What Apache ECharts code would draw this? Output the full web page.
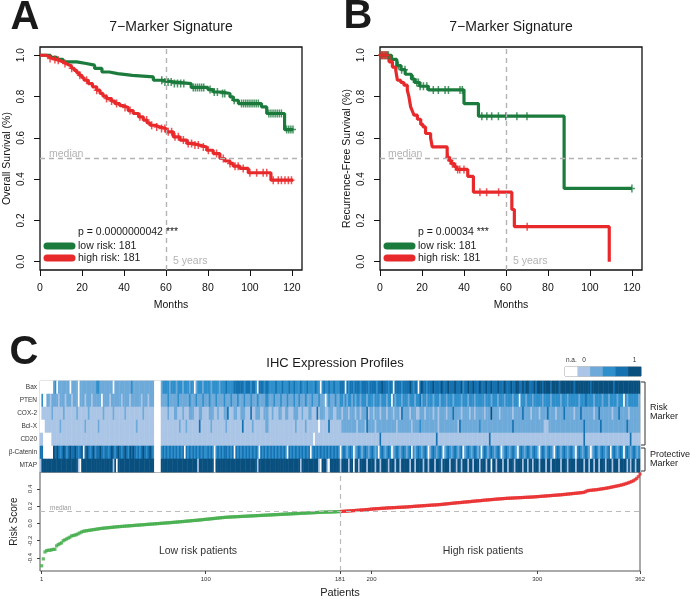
<!DOCTYPE html>
<html><head><meta charset="utf-8">
<script src="https://cdn.jsdelivr.net/npm/echarts@6/dist/echarts.min.js"></script>
<style>html,body{margin:0;padding:0;background:#fff}#c{width:690px;height:599px}</style>
</head><body><div id="c"></div>
<script>
const FONT = '"Liberation Sans", Arial, Helvetica, sans-serif';

// ---------- Panel A : overall survival (Kaplan-Meier) ----------
const kmA_low_t = [0, 5, 8, 11, 17.5, 22, 26, 29.5, 33, 37, 44, 54, 58.5, 63.5, 72, 80, 82.5, 86.5, 90.5, 92, 94.5, 105.5, 108, 116.5];
const kmA_low_s = [1, 0.99, 0.98, 0.968, 0.96, 0.952, 0.936, 0.919, 0.911, 0.903, 0.895, 0.879, 0.871, 0.863, 0.844, 0.834, 0.822, 0.815, 0.798, 0.782, 0.766, 0.75, 0.718, 0.64];
const kmA_low_end = 120.6;
const kmA_low_cens = [58, 59.5, 61, 62.5, 64, 65.5, 67, 68.5, 73, 74, 75, 76, 77, 78, 81, 83, 84.5, 87, 88, 92.5, 96, 97, 98, 99, 100, 101, 102, 103, 104, 109, 110, 111, 112, 113, 114, 115, 117.5, 118.5, 119.5, 120.5];

const kmA_high_t = [0, 3, 4.4, 6, 7.6, 9, 10.8, 12.5, 13.9, 15, 16.3, 17.5, 18.7, 20, 21, 23, 25, 27, 28.6, 30, 31.7, 34, 35.7, 38, 39.7, 42, 44.4, 47, 49.2, 51, 52.4, 55, 57, 60, 63.5, 66.7, 70, 73, 76, 79.4, 82.5, 85.7, 88, 90.5, 92, 95.2, 99.2, 110];
const kmA_high_s = [1, 0.992, 0.984, 0.98, 0.976, 0.968, 0.96, 0.953, 0.947, 0.937, 0.927, 0.915, 0.903, 0.891, 0.879, 0.863, 0.847, 0.831, 0.815, 0.802, 0.79, 0.778, 0.766, 0.756, 0.747, 0.732, 0.718, 0.702, 0.686, 0.673, 0.661, 0.653, 0.645, 0.629, 0.605, 0.589, 0.573, 0.565, 0.556, 0.54, 0.524, 0.5, 0.488, 0.476, 0.463, 0.452, 0.431, 0.395];
const kmA_high_end = 120.6;
const kmA_high_cens = [4.8, 7.1, 8.7, 11.9, 15.1, 19, 22.2, 27, 31.7, 34.1, 36.5, 40.5, 42.9, 47.6, 50.8, 53.2, 55.6, 57.9, 59.5, 61.1, 62.7, 64.3, 65.9, 68.3, 70.6, 72.2, 73.8, 75.4, 77.8, 80.2, 84.1, 87.3, 90.5, 92.9, 94.4, 96.8, 100, 103.2, 106.3, 108, 111.1, 113.5, 115, 116.7, 118.3, 119.8];

// ---------- Panel B : recurrence-free survival ----------
const kmB_low_t = [0, 5.5, 8, 10, 12, 15, 16.5, 19, 23, 40, 46.9, 87.7];
const kmB_low_s = [1, 0.98, 0.95, 0.93, 0.908, 0.885, 0.868, 0.85, 0.832, 0.766, 0.705, 0.355];
const kmB_low_end = 120;
const kmB_low_cens = [0.5, 1.2, 1.9, 2.6, 3.3, 4, 8.7, 10.3, 11.9, 15.9, 17.5, 18.3, 19.1, 20.7, 22.3, 25.4, 27.8, 31, 32.6, 38.1, 39.2, 48.5, 50.9, 53.2, 56.4, 59.9, 65.2, 70, 120];

const kmB_high_t = [0, 4.3, 5.9, 7.5, 8.3, 9.9, 11.4, 13, 13.8, 14.6, 15.4, 16.2, 17.8, 19.4, 20.5, 21.7, 24.1, 24.9, 32, 33, 34, 35.5, 36.5, 41.8, 44.5, 62.8, 64, 109.2];
const kmB_high_s = [1, 0.968, 0.943, 0.927, 0.879, 0.868, 0.855, 0.831, 0.798, 0.75, 0.73, 0.71, 0.69, 0.665, 0.653, 0.621, 0.6, 0.556, 0.505, 0.49, 0.475, 0.46, 0.447, 0.413, 0.337, 0.253, 0.17, 0];
const kmB_high_end = 109.2;
const kmB_high_cens = [0.5, 1.2, 2, 2.8, 3.5, 32.5, 33.5, 34.5, 36, 37, 38, 40, 47.6, 50.8, 56.5, 70.1];

const monthTicks = [0, 20, 40, 60, 80, 100, 120];
const survTicks = [0, 0.2, 0.4, 0.6, 0.8, 1.0];

// ---------- Panel C : IHC heatmap (levels 0 = n.a., 1..5 = low..high) ----------
const markers = ['Bax', 'PTEN', 'COX-2', 'Bcl-X', 'CD20', 'β-Catenin', 'MTAP'];
const levelColors = ['#ffffff', '#aac5e5', '#6eaad9', '#2e8fcb', '#1571b0', '#09507f'];
const colorbarLabels = ['n.a.', '0', '', '', '', '1'];
const rowBax = ["00000 00023 02222 22202","22202 22222 22223 32222","22220 22222 22222 32222","22222 22220 00023 33323","33233 32333 23302 33323","33323 33323 33433 33444","44434 44344 30444 34433","33433 34333 43343 33433","34333 34330 34334 33433","34440 43443 44434 44434","44434 45444 34404 44434","44454 34404 54434 44544","44544 45444 54445 34454","45444 54445 44544 45444","54445 44554 45455 44454","55545 55545 55545 55555","55455 55555 55455 55555","55555 54555 55555 55555","55"];
const rowPTEN = ["03002 21222 21222 12221","22202 22122 21222 22022","22122 22221 22221 22222","21222 12220 00022 22322","22232 22222 32223 22232","22322 23222 23222 32223","22232 22322 23222 23322","23222 32223 22232 23222","32223 22232 22023 22232","23323 23323 23323 33233","32333 23332 33032 33323","33233 32334 23323 33233","32333 23332 33332 33323","33233 33323 33233 32333","23333 23330 33323 33233","33323 33323 33332 33323","33333 23334 33332 33332","33323 33323 33032 33333","32"];
const rowCOX2 = ["01111 11211 11112 11111","11211 11112 11111 11121","11112 11111 12111 11111","11211 11110 00011 11211","12211 12111 22211 12211","11222 11211 12241 11221","12221 11411 22211 22211","21112 21122 11122 21121","11221 11412 22112 22112","22122 21222 12212 22412","21222 12221 22212 22142","22212 22112 22122 22122","12222 12224 22221 22221","22122 22212 22522 22122","22222 12222 24222 21222","21222 24222 21222 24222","22122 24222 22221 22422","22222 12224 22222 12222","22"];
const rowBclX = ["00011 11111 11211 11111","11111 11211 11111 21111","11111 11111 11111 11121","11111 11110 00011 11111","11112 11121 11111 14111","11121 11111 11211 11111","11411 11121 11111 12211","11111 11111 11112 11111","21111 11101 11114 11111","11222 22222 21222 21422","22122 22222 22222 12222","22221 22223 22222 22222","12222 22222 22142 22222","22222 32222 22222 22222","22222 42222 22222 22222","22221 11222 22222 22222","22222 22242 22222 22242","22222 22222 22224 22222","22"];
const rowCD20 = ["11000 00111 11111 11111","11111 11111 11111 11111","11111 11111 11111 11111","11111 11110 00011 11111","11111 11111 11111 11111","11111 11111 11111 11111","11111 11111 11111 11111","11111 11111 11111 11111","11111 01111 11111 11111","11111 11111 11111 11111","11111 41111 11111 11111","11111 11111 11111 11114","11111 11111 11111 11111","11111 11111 14111 11111","11111 11111 11111 11111","11111 11111 11111 11111","11111 11141 11111 11111","11111 11111 11111 14111","11"];
const rowBCat = ["44000 00054 54345 43454","45434 50454 34534 45434","43454 34543 45435 45434","34543 45430 00034 34343","43434 34043 43434 34343","34343 03434 34434 34043","43434 34343 43043 43434","34343 43430 43434 34343","43403 43434 34343 43434","30343 23430 23432 34323","43230 34323 43023 43234","32340 32343 23430 23432","34302 34323 43234 02343","23432 30343 23432 34302","34323 43203 43234 32343","20343 23432 03432 34323","43203 43234 32023 43234","32340 34323 43034 32343","23"];
const rowMTAP = ["15555 55555 55555 55555","55510 55555 55555 55555","55551 50555 55555 55555","55555 55550 00055 55555","55555 55555 55555 15555","55555 05555 55555 55555","55555 55555 51555 55555","55555 55555 55555 55155","55555 55510 55510 55555","51555 51550 55155 55155","55155 15555 15551 55155","55515 51555 51551 55515","55155 55155 51551 55515","51555 15551 55055 15551","55155 51555 51551 55155","51555 15515 55551 55515","55515 55515 51551 55155","51555 15551 55551 51551","55"];

// ---------- Panel C : sorted risk scores ----------
const riskLow = [-0.49,-0.41,-0.33,-0.315,-0.31,-0.31,-0.305,-0.30,-0.30,
 -0.26,-0.245,-0.235,-0.225,
 -0.20,-0.19,-0.18,-0.17,-0.16,
 -0.145,-0.14,-0.135,-0.13,-0.12,-0.11,-0.10,
 -0.092,-0.088,-0.085,-0.082,-0.079,-0.076,-0.073,-0.07,-0.067,-0.064,
 -0.061,-0.058,-0.056,-0.054,-0.052,-0.05,-0.048,-0.046,-0.044,-0.042,-0.04,-0.038,-0.037,-0.035,-0.034,
 -0.032,-0.031,-0.029,-0.028,-0.026,-0.025,-0.023,-0.022,-0.02,-0.019,-0.017,-0.016,-0.014,-0.013,-0.011,-0.01,-0.008,-0.007,-0.005,-0.004,
 -0.002,-0.001,0.001,0.002,0.004,0.005,0.007,0.008,0.01,0.011,0.013,0.015,0.016,0.018,0.02,0.021,0.023,0.025,0.027,0.028,
 0.03,0.032,0.034,0.035,0.037,0.039,0.041,0.043,0.045,0.047,0.049,0.051,0.053,0.055,0.057,0.059,0.061,0.063,0.065,0.067,
 0.069,0.07,0.072,0.073,0.074,0.075,0.076,0.077,0.078,0.079,0.08,0.081,0.082,0.083,0.084,0.085,0.086,0.087,0.088,0.089,0.09,0.091,0.092,0.093,0.094,0.095,0.096,0.097,0.098,0.099,
 0.1,0.101,0.102,0.103,0.104,0.105,0.106,0.107,0.108,0.109,0.11,0.111,0.112,0.113,0.114,0.115,0.116,0.117,0.118,0.119,0.12,0.121,0.122,0.123,0.124,0.125,0.126,0.127,0.128,0.129,0.13,0.13,0.131,0.131,0.132,0.132,0.133,0.134,0.135,0.136,0.137];
const riskHigh = [0.138,0.14,0.141,0.142,0.144,0.145,0.146,0.148,0.149,0.15,0.152,0.153,0.155,0.156,0.158,0.159,0.161,0.163,0.165,0.167,
 0.168,0.17,0.171,0.172,0.174,0.175,0.176,0.178,0.179,0.18,0.181,0.182,0.183,0.184,0.185,0.186,0.187,0.188,0.189,0.19,
 0.191,0.193,0.194,0.196,0.197,0.199,0.2,0.201,0.203,0.204,0.205,0.207,0.208,0.209,0.211,0.212,0.213,0.214,0.216,0.217,
 0.219,0.221,0.223,0.225,0.227,0.229,0.231,0.233,0.235,0.237,0.239,0.24,0.242,0.244,0.246,0.248,0.249,0.251,0.253,0.255,
 0.257,0.259,0.261,0.262,0.264,0.266,0.268,0.27,0.271,0.273,0.275,0.276,0.278,0.28,0.281,0.283,0.284,0.286,0.287,0.289,
 0.29,0.291,0.292,0.293,0.294,0.295,0.296,0.297,0.298,0.299,0.3,0.301,0.302,0.303,0.304,0.305,0.306,0.308,0.309,0.311,
 0.312,0.314,0.315,0.317,0.318,0.32,0.321,0.323,0.324,0.326,0.327,0.329,0.33,0.332,0.334,0.336,0.338,0.34,0.342,0.344,
 0.346,0.348,0.35,0.352,0.354,0.356,0.358,0.366,0.375,0.38,0.382,0.384,0.386,0.388,0.39,0.393,0.396,0.399,0.402,0.405,
 0.408,0.412,0.416,0.42,0.424,0.428,0.432,0.436,0.44,0.445,0.45,0.456,0.462,0.469,0.476,0.484,0.493,0.505,0.52,0.54,0.57];
const riskMedian = 0.137;
const splitPatient = 181;
const patientTicks = [1, 100, 181, 200, 300, 362];
const riskTicks = [-0.4, -0.2, 0, 0.2, 0.4];

// ---------- helpers ----------
const GREEN = '#1b7b3c', RED = '#e8292b', GREY = '#b3b3b3';
const PLUS = 'path://M-0.75,-4 L0.75,-4 L0.75,-0.75 L3,-0.75 L3,0.75 L0.75,0.75 L0.75,4 L-0.75,4 L-0.75,0.75 L-3,0.75 L-3,-0.75 L-0.75,-0.75 Z';
function stepData(t, s, end) {
  const d = t.map((v, i) => [v, s[i]]);
  if (end > t[t.length - 1]) d.push([end, s[s.length - 1]]);
  return d;
}
function stepAt(t, s, x) { let v = s[0]; for (let i = 0; i < t.length; i++) if (t[i] <= x) v = s[i]; return v; }
function censData(t, s, c) { return c.map(x => [x, stepAt(t, s, x)]); }
function kmLine(gi, t, s, end, color, extra) {
  return Object.assign({type: 'line', xAxisIndex: gi, yAxisIndex: gi, step: 'end', showSymbol: false, symbol: 'none',
    data: stepData(t, s, end), lineStyle: {color, width: 3.2}, z: 3, silent: true}, extra || {});
}
function kmCens(gi, t, s, c, color) {
  return {type: 'scatter', xAxisIndex: gi, yAxisIndex: gi, symbol: PLUS, symbolSize: [6, 8],
    data: censData(t, s, c), itemStyle: {color}, z: 4, silent: true};
}
function kmMark() {
  return {silent: true, symbol: ['none', 'none'], label: {show: false},
    lineStyle: {type: [5, 4], color: GREY, width: 1.4}, data: [{yAxis: 0.5}, {xAxis: 60}]};
}
const txt = {fontFamily: FONT, color: '#111'};
function kmX(gi) {
  return {type: 'value', gridIndex: gi, min: 0, max: 124.8, splitLine: {show: false}, axisLine: {show: false, onZero: false},
    axisTick: {show: true, length: 6, lineStyle: {color: '#111', width: 1}, customValues: monthTicks},
    axisLabel: Object.assign({customValues: monthTicks, margin: 13, fontSize: 10.5}, txt),
    name: 'Months', nameLocation: 'middle', nameGap: 30, nameTextStyle: Object.assign({fontSize: 10.5}, txt)};
}
function kmY(gi, name) {
  return {type: 'value', gridIndex: gi, min: -0.04, max: 1.04, splitLine: {show: false}, axisLine: {show: false, onZero: false},
    axisTick: {show: true, length: 6, lineStyle: {color: '#111', width: 1}, customValues: survTicks},
    axisLabel: Object.assign({customValues: survTicks, rotate: 90, margin: 14, fontSize: 10, formatter: v => (+v).toFixed(1)}, txt),
    name, nameLocation: 'middle', nameGap: 27, nameTextStyle: Object.assign({fontSize: 10.5}, txt)};
}

// heatmap data
const rows = [rowBax, rowPTEN, rowCOX2, rowBclX, rowCD20, rowBCat, rowMTAP].map(r => r.join('').replace(/ /g, ''));
const heatData = [];
rows.forEach((r, yi) => { for (let xi = 0; xi < r.length; xi++) heatData.push([xi, yi, +r[xi]]); });
const nPatients = riskLow.length + riskHigh.length;
const patientCats = Array.from({length: nPatients}, (_, i) => String(i + 1));

const lowData = riskLow.map((v, i) => [i + 1, v]);
const highData = riskHigh.map((v, i) => [riskLow.length + i + 1, v]);

function T(text, x, y, size, o) {
  o = o || {};
  return {type: 'text', x, y, silent: true, z: 100, style: {text, fill: o.fill || '#1a1a1a',
    font: (o.bold ? 'bold ' : '') + size + 'px ' + FONT, align: o.align || 'center', verticalAlign: 'middle'}};
}
function L(x1, y1, x2, y2, color) {
  return {type: 'line', silent: true, z: 100, shape: {x1, y1, x2, y2}, style: {stroke: color, lineWidth: 7, lineCap: 'round'}};
}
function P(points) {
  return {type: 'polyline', silent: true, z: 100, shape: {points}, style: {stroke: '#333', lineWidth: 1, fill: null}};
}

const option = {
  animation: false,
  backgroundColor: '#ffffff',
  grid: [
    {left: 40, top: 47, width: 262, height: 223, show: true, borderColor: '#111', borderWidth: 1.3, backgroundColor: 'transparent'},
    {left: 380, top: 47, width: 262, height: 223, show: true, borderColor: '#111', borderWidth: 1.3, backgroundColor: 'transparent'},
    {left: 40, top: 381, width: 600, height: 91, show: true, borderColor: '#888', borderWidth: 0.6, backgroundColor: 'transparent'},
    {left: 40, top: 472, width: 600, height: 100, show: true, borderColor: '#555', borderWidth: 1, backgroundColor: 'transparent'},
    {left: 565, top: 367, width: 76, height: 9, show: true, borderColor: '#666', borderWidth: 0.8, backgroundColor: 'transparent'}
  ],
  xAxis: [
    kmX(0), kmX(1),
    {type: 'category', gridIndex: 2, data: patientCats, show: false},
    {type: 'value', gridIndex: 3, min: 0, max: 362, splitLine: {show: false}, axisLine: {show: false, onZero: false},
      axisTick: {show: true, length: 3, lineStyle: {color: '#444'}, customValues: patientTicks},
      axisLabel: {customValues: patientTicks, fontSize: 6, margin: 5, color: '#333', fontFamily: FONT},
      name: 'Patients', nameLocation: 'middle', nameGap: 16, nameTextStyle: {fontSize: 11, color: '#222', fontFamily: FONT}},
    {type: 'category', gridIndex: 4, data: colorbarLabels, position: 'top', axisLine: {show: false}, axisTick: {show: false},
      axisLabel: {interval: 0, fontSize: 6.5, margin: 3, color: '#333', fontFamily: FONT}}
  ],
  yAxis: [
    kmY(0, 'Overall Survival (%)'), kmY(1, 'Recurrence-Free Survival (%)'),
    {type: 'category', gridIndex: 2, data: markers, inverse: true, axisLine: {show: false}, axisTick: {show: false},
      axisLabel: {fontSize: 6.5, margin: 3, color: '#333', fontFamily: FONT}},
    {type: 'value', gridIndex: 3, min: -0.55, max: 0.594, splitLine: {show: false}, axisLine: {show: false, onZero: false},
      axisTick: {show: true, length: 3, lineStyle: {color: '#444'}, customValues: riskTicks},
      axisLabel: {customValues: riskTicks, rotate: 90, fontSize: 6, margin: 7, color: '#333', fontFamily: FONT, formatter: v => (+v).toFixed(1)},
      name: 'Risk Score', nameLocation: 'middle', nameGap: 19, nameTextStyle: {fontSize: 10, color: '#222', fontFamily: FONT}},
    {type: 'category', gridIndex: 4, data: ['c'], show: false}
  ],
  visualMap: [{type: 'piecewise', show: false, seriesIndex: [8, 9], dimension: 2,
    pieces: levelColors.map((c, i) => ({value: i, color: c}))}],
  series: [
    kmLine(0, kmA_low_t, kmA_low_s, kmA_low_end, GREEN, {markLine: kmMark()}),
    kmCens(0, kmA_low_t, kmA_low_s, kmA_low_cens, GREEN),
    kmLine(0, kmA_high_t, kmA_high_s, kmA_high_end, RED),
    kmCens(0, kmA_high_t, kmA_high_s, kmA_high_cens, RED),
    kmLine(1, kmB_low_t, kmB_low_s, kmB_low_end, GREEN, {markLine: kmMark()}),
    kmCens(1, kmB_low_t, kmB_low_s, kmB_low_cens, GREEN),
    kmLine(1, kmB_high_t, kmB_high_s, kmB_high_end, RED),
    kmCens(1, kmB_high_t, kmB_high_s, kmB_high_cens, RED),
    {type: 'heatmap', xAxisIndex: 2, yAxisIndex: 2, data: heatData, silent: true, itemStyle: {borderWidth: 0}},
    {type: 'heatmap', xAxisIndex: 4, yAxisIndex: 4, data: levelColors.map((c, i) => [i, 0, i]), silent: true},
    {type: 'scatter', xAxisIndex: 3, yAxisIndex: 3, data: lowData, symbol: 'rect', symbolSize: 3.2,
      itemStyle: {color: '#41ad49'}, silent: true, z: 4,
      markLine: {silent: true, symbol: ['none', 'none'], label: {show: false},
        lineStyle: {type: [5, 4], color: '#bbbbbb', width: 1.2}, data: [{yAxis: riskMedian}, {xAxis: splitPatient}]}},
    {type: 'scatter', xAxisIndex: 3, yAxisIndex: 3, data: highData, symbol: 'rect', symbolSize: 3.2,
      itemStyle: {color: RED}, silent: true, z: 4}
  ],
  graphic: [
    T('A', 25, 18, 40, {bold: true}), T('B', 358, 17, 40, {bold: true}), T('C', 24, 353, 40, {bold: true}),
    T('7\u2212Marker Signature', 171, 27, 14), T('7\u2212Marker Signature', 511, 27, 14),
    T('median', 49, 154, 10.5, {align: 'left', fill: GREY}), T('5 years', 173, 261, 10.5, {align: 'left', fill: GREY}),
    T('median', 388, 154, 10.5, {align: 'left', fill: GREY}), T('5 years', 513, 261, 10.5, {align: 'left', fill: GREY}),
    T('p = 0.0000000042 ***', 78, 232, 10.5, {align: 'left'}),
    L(47, 246, 72, 246, GREEN), L(47, 258, 72, 258, RED),
    T('low risk: 181', 78, 246, 10.5, {align: 'left'}), T('high risk: 181', 78, 258, 10.5, {align: 'left'}),
    T('p = 0.00034 ***', 418, 232, 10.5, {align: 'left'}),
    L(387, 246, 412, 246, GREEN), L(387, 258, 412, 258, RED),
    T('low risk: 181', 418, 246, 10.5, {align: 'left'}), T('high risk: 181', 418, 258, 10.5, {align: 'left'}),
    T('IHC Expression Profiles', 335, 363, 13),
    P([[641, 382], [645, 382], [645, 445], [641, 445]]),
    P([[641, 448], [645, 448], [645, 471], [641, 471]]),
    T('Risk', 650, 408, 9, {align: 'left'}), T('Marker', 650, 417, 9, {align: 'left'}),
    T('Protective', 650, 455, 9, {align: 'left'}), T('Marker', 650, 464, 9, {align: 'left'}),
    T('median', 50, 508, 6.5, {align: 'left', fill: '#999'}),
    T('Low risk patients', 198, 551, 10.5, {fill: '#333'}), T('High risk patients', 483, 551, 10.5, {fill: '#333'})
  ]
};
const chart = echarts.init(document.getElementById('c'), null, {renderer: 'canvas', width: 690, height: 599});
chart.setOption(option);
</script>
</body></html>
